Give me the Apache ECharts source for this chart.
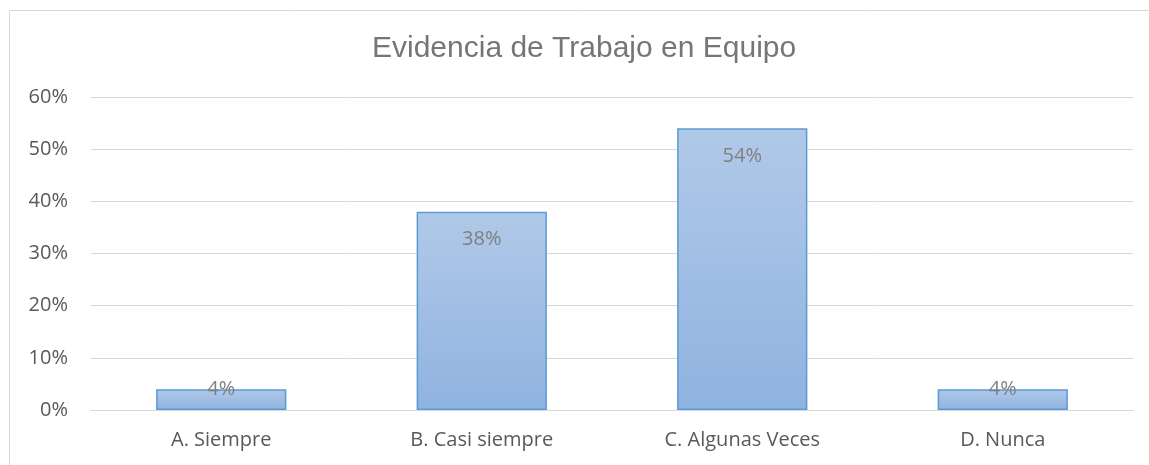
<!DOCTYPE html>
<html>
<head>
<meta charset="utf-8">
<script src="https://cdn.jsdelivr.net/npm/echarts@6/dist/echarts.min.js"></script>
<style>
  html, body { margin: 0; padding: 0; background: #fff; }
  #chart { width: 1149px; height: 465px; }
</style>
</head>
<body>
<div id="chart"></div>
<script>
const categories = ['A. Siempre', 'B. Casi siempre', 'C. Algunas Veces', 'D. Nunca'];
const values = [0.04, 0.38, 0.54, 0.04];
const yTicks = [0, 0.1, 0.2, 0.3, 0.4, 0.5, 0.6];

const font = '"Open Sans", "Liberation Sans", sans-serif';
const textColor = '#595959';

// small bars get their label above the top edge, like the original
const barData = values.map(v => ({
  value: v,
  label: v < 0.1 ? { position: 'top', distance: -10 } : { position: 'insideTop', distance: 18 }
}));

const chart = echarts.init(document.getElementById('chart'));
chart.setOption({
  animation: false,
  title: {
    text: 'Evidencia de Trabajo en Equipo',
    left: 367,
    top: 29,
    textStyle: { fontFamily: '"Liberation Sans", Arial, sans-serif', fontSize: 30, fontWeight: 'normal', color: '#767676' }
  },
  graphic: [{
    type: 'rect',
    shape: { x: 9.5, y: 10.5, width: 1200, height: 470 },
    style: { fill: 'none', stroke: '#d9d9d9', lineWidth: 1 },
    silent: true
  }],
  grid: { left: 91, right: 16, top: 97, bottom: 55 },
  xAxis: {
    type: 'category',
    data: categories,
    axisTick: { show: false },
    axisLine: { lineStyle: { color: '#d9d9d9', width: 1 } },
    axisLabel: { fontFamily: font, fontSize: 20, color: textColor, margin: 20 }
  },
  yAxis: {
    type: 'value',
    min: 0,
    max: yTicks[yTicks.length - 1],
    interval: 0.1,
    axisLine: { show: false },
    axisTick: { show: false },
    splitLine: { lineStyle: { color: '#d9d9d9', width: 1 } },
    axisLabel: {
      fontFamily: font, fontSize: 20, color: textColor, margin: 23,
      formatter: v => Math.round(v * 100) + '%'
    }
  },
  series: [{
    type: 'bar',
    data: barData,
    barWidth: '50%',
    itemStyle: {
      color: new echarts.graphic.LinearGradient(0, 0, 0, 1, [
        { offset: 0, color: '#b1c9e8' },
        { offset: 1, color: '#8fb3e0' }
      ]),
      borderColor: '#5b9bd5',
      borderWidth: 1.5
    },
    label: {
      show: true,
      fontFamily: font,
      fontSize: 20,
      color: '#7f7f7f',
      formatter: p => Math.round(p.value * 100) + '%'
    }
  }]
});
</script>
</body>
</html>
